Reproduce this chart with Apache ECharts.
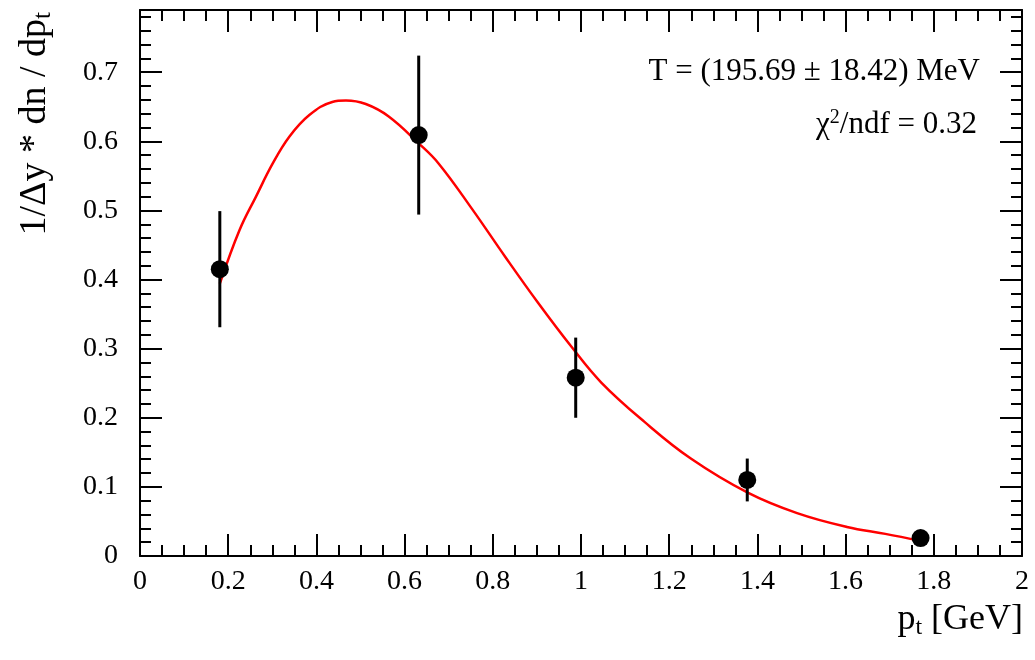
<!DOCTYPE html>
<html>
<head>
<meta charset="utf-8">
<script src="https://cdn.jsdelivr.net/npm/echarts@6/dist/echarts.min.js"></script>
<style>html,body{margin:0;padding:0;background:#fff}#chart{width:1035px;height:660px}</style>
</head>
<body>
<div id="chart"></div>
<script>
// data points with symmetric errors
let ptValues = [0.181, 0.632, 0.988, 1.377, 1.770];
let yieldValues = [0.415, 0.609, 0.258, 0.110, 0.026];
let yieldErrors = [0.084, 0.115, 0.058, 0.031, 0.009];

// fit curve
let fitX = [0.181, 0.226, 0.263, 0.301, 0.339, 0.384, 0.436, 0.467, 0.512, 0.564, 0.632, 0.677, 0.752, 0.828, 0.903, 0.978, 1.046, 1.144, 1.249, 1.377, 1.490, 1.603, 1.690, 1.770];
let fitY = [0.394, 0.472, 0.520, 0.568, 0.607, 0.638, 0.657, 0.659, 0.654, 0.636, 0.597, 0.568, 0.503, 0.433, 0.366, 0.303, 0.251, 0.194, 0.141, 0.092, 0.062, 0.042, 0.032, 0.022];

let xTicks = {min: 0, max: 2, interval: 0.2};
let yTicks = {min: 0, max: 0.79, interval: 0.1};

let font = '"Liberation Serif", "DejaVu Serif", serif';
let chart = echarts.init(document.getElementById('chart'));

let axisBase = function(isX, pos){
    return {
        type: 'value',
        position: pos,
        min: isX ? xTicks.min : yTicks.min,
        max: isX ? xTicks.max : yTicks.max,
        interval: isX ? xTicks.interval : yTicks.interval,
        axisLine: {show: true, onZero: false, lineStyle: {color: '#000', width: 2}},
        axisTick: {show: true, inside: true, length: 22, lineStyle: {color: '#000', width: 2}},
        minorTick: {show: true, splitNumber: isX ? 4 : 5, length: 11, lineStyle: {color: '#000', width: 2}},
        splitLine: {show: false},
        axisLabel: {show: false}
    };
};

let xMain = axisBase(true, 'bottom');
xMain.axisLabel = {show: true, color: '#000', fontFamily: font, fontSize: 28, margin: 12,
    formatter: function(v){ return String(+v.toFixed(1)); }};
let yMain = axisBase(false, 'left');
yMain.axisLabel = {show: true, color: '#000', fontFamily: font, fontSize: 28, margin: 22, showMaxLabel: false,
    formatter: function(v){ return String(+v.toFixed(1)); }};

let pts = ptValues.map(function(x, i){ return [x, yieldValues[i], yieldErrors[i]]; });
let fit = fitX.map(function(x, i){ return [x, fitY[i]]; });

chart.setOption({
    animation: false,
    grid: {left: 140, right: 13, top: 10, bottom: 104},
    xAxis: [xMain, axisBase(true, 'top')],
    yAxis: [yMain, axisBase(false, 'right')],
    series: [
        {
            type: 'line', data: fit, smooth: 0.4, showSymbol: false,
            lineStyle: {color: '#ff0000', width: 2.5}, z: 3
        },
        {
            type: 'custom', z: 4,
            renderItem: function(params, api){
                let x = api.value(0), y = api.value(1), e = api.value(2);
                let top = api.coord([x, y + e]), bot = api.coord([x, y - e]);
                return {type: 'line', shape: {x1: top[0], y1: top[1], x2: bot[0], y2: bot[1]},
                    style: {stroke: '#000', lineWidth: 3}};
            },
            data: pts
        },
        {
            type: 'scatter', data: pts, symbol: 'circle', symbolSize: 18,
            itemStyle: {color: '#000', opacity: 1}, z: 5
        }
    ],
    graphic: [
        {type: 'text', right: 55, top: 56, style: {text: 'T = (195.69 ± 18.42) MeV', fill: '#000', font: '31px ' + font}},
        {type: 'text', right: 58, top: 108, style: {
            text: 'χ{s|2}/ndf = 0.32', fill: '#000', font: '31px ' + font,
            rich: {s: {fontSize: 20, fontFamily: font, verticalAlign: 'top', padding: [0, 0, 14, 0]}}
        }},
        {type: 'text', right: 12, top: 602, style: {
            text: 'p{b|t} [GeV]', fill: '#000', font: '36px ' + font,
            rich: {b: {fontSize: 24, fontFamily: font, padding: [16, 0, 0, 0]}}
        }},
        {type: 'text', left: 16, top: 12, rotation: Math.PI / 2, originX: 0, originY: 0,
            x: 0, y: 0, style: {
            text: '1/Δy * dn / dp{b|t}', fill: '#000', font: '38px ' + font,
            rich: {b: {fontSize: 25, fontFamily: font, padding: [16, 0, 0, 0]}}
        }}
    ]
});
</script>
</body>
</html>
